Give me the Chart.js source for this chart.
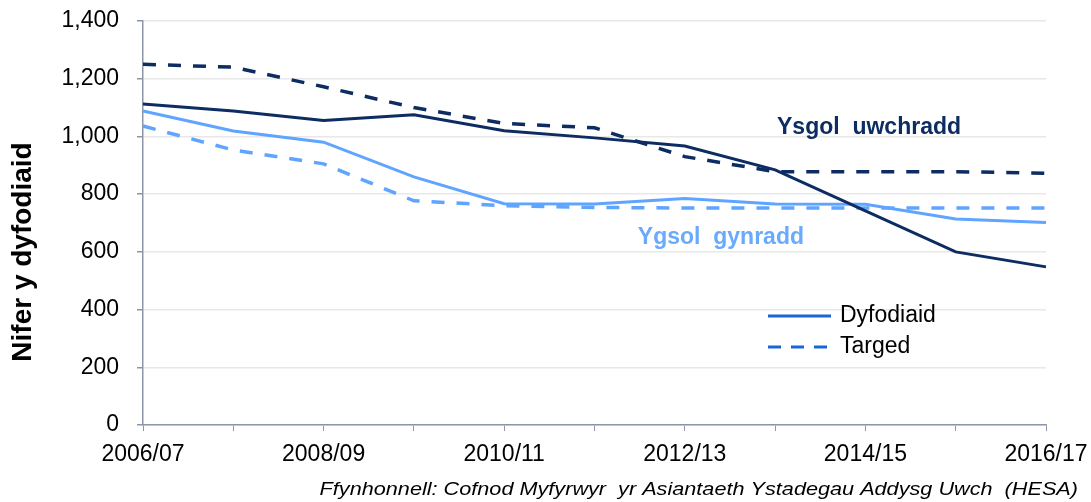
<!DOCTYPE html>
<html>
<head>
<meta charset="utf-8">
<script src="https://cdn.jsdelivr.net/npm/chart.js@4.4.1/dist/chart.umd.min.js"></script>
<style>
  html, body { margin: 0; padding: 0; background: #ffffff; }
  #wrap { width: 1091px; height: 502px; position: relative; }
</style>
</head>
<body>
<div id="wrap"><canvas id="c"></canvas></div>
<script>
const categories = ["2006/07","2007/08","2008/09","2009/10","2010/11","2011/12","2012/13","2013/14","2014/15","2015/16","2016/17"];
const secondaryActual = [1112, 1088, 1055, 1075, 1020, 995, 967, 884, 742, 600, 548];
const secondaryTarget = [1250, 1240, 1172, 1100, 1045, 1030, 930, 878, 878, 878, 872];
const primaryActual   = [1088, 1019, 980, 860, 767, 766, 785, 766, 765, 714, 702];
const primaryTarget   = [1036, 953, 905, 777, 760, 754, 752, 752, 752, 752, 752];
const yTicks = [0, 200, 400, 600, 800, 1000, 1200, 1400];

const yTitle = "Nifer y dyfodiaid";
const labelSecondary = "Ysgol  uwchradd";
const labelPrimary = "Ygsol  gynradd";
const legendItems = ["Dyfodiaid", "Targed"];
const sourceText = "Ffynhonnell: Cofnod Myfyrwyr  yr Asiantaeth Ystadegau Addysg Uwch  (HESA)";

const DARK = "#0c2c62";
const LIGHT = "#5fa5ff";
const AXIS = "#8f95a8";
const GRID = "#e8e8e8";
const FONT = "'Liberation Sans', Arial, sans-serif";

const textPlugin = {
  id: "texts",
  afterDraw(chart) {
    const ctx = chart.ctx;
    const xs = chart.scales.x, ys = chart.scales.y;
    ctx.save();
    // Y axis title
    ctx.save();
    ctx.translate(23, 252);
    ctx.rotate(-Math.PI / 2);
    ctx.font = "bold 28px " + FONT;
    ctx.fillStyle = "#000";
    ctx.textAlign = "center";
    ctx.textBaseline = "middle";
    ctx.fillText(yTitle, 0, 0);
    ctx.restore();

    // Series annotations
    ctx.font = "bold 23px " + FONT;
    ctx.textAlign = "center";
    ctx.textBaseline = "middle";
    ctx.fillStyle = DARK;
    ctx.fillText(labelSecondary, xs.getPixelForValue(8.04), ys.getPixelForValue(1030));
    ctx.fillStyle = "#69aafc";
    ctx.fillText(labelPrimary, xs.getPixelForValue(6.4), ys.getPixelForValue(648));

    // Legend
    const lx0 = 768, lx1 = 831, ly0 = 316, ly1 = 347;
    ctx.strokeStyle = "#1a66d9";
    ctx.lineWidth = 3;
    ctx.beginPath(); ctx.moveTo(lx0, ly0); ctx.lineTo(lx1, ly0); ctx.stroke();
    ctx.setLineDash([13, 10]);
    ctx.beginPath(); ctx.moveTo(lx0, ly1); ctx.lineTo(lx1, ly1); ctx.stroke();
    ctx.setLineDash([]);
    ctx.font = "23px " + FONT;
    ctx.fillStyle = "#000";
    ctx.textAlign = "left";
    ctx.fillText(legendItems[0], 840, ly0);
    ctx.fillText(legendItems[1], 840, ly1);

    // Source (slightly widened, as in the reference)
    ctx.save();
    ctx.translate(1078, 490);
    ctx.scale(1.14, 1);
    ctx.font = "italic 19px " + FONT;
    ctx.textAlign = "right";
    ctx.fillText(sourceText, 0, 0);
    ctx.restore();
    ctx.restore();
  }
};

new Chart(document.getElementById("c"), {
  type: "line",
  data: {
    labels: categories,
    datasets: [
      { label: "Ysgol uwchradd - Dyfodiaid", data: secondaryActual, borderColor: DARK, borderWidth: 3 },
      { label: "Ysgol uwchradd - Targed", data: secondaryTarget, borderColor: DARK, borderWidth: 3.5, borderDash: [13, 12] },
      { label: "Ygsol gynradd - Dyfodiaid", data: primaryActual, borderColor: LIGHT, borderWidth: 3 },
      { label: "Ygsol gynradd - Targed", data: primaryTarget, borderColor: LIGHT, borderWidth: 3.5, borderDash: [13, 12] }
    ]
  },
  options: {
    responsive: true,
    maintainAspectRatio: false,
    animation: false,
    layout: { padding: { left: 0, right: 45, top: 21, bottom: 0 } },
    elements: { point: { radius: 0 }, line: { tension: 0, fill: false } },
    plugins: { legend: { display: false }, tooltip: { enabled: false } },
    scales: {
      x: {
        type: "category",
        offset: false,
        afterFit(scale) {
          scale.height = 77;
          scale.paddingLeft = 0; scale.paddingRight = 0;
        },
        grid: { display: true, drawOnChartArea: false, drawTicks: true, tickLength: 6, tickColor: AXIS },
        border: { display: true, color: AXIS, width: 1.5 },
        ticks: {
          autoSkip: false, maxRotation: 0, minRotation: 0, padding: 10,
          color: "#000", font: { family: FONT, size: 23 },
          callback(value, index) { return index % 2 === 0 ? categories[index] : ""; }
        }
      },
      y: {
        min: 0, max: 1400,
        afterFit(scale) {
          scale.width = 143;
          scale.paddingTop = 0; scale.paddingBottom = 0;
        },
        afterBuildTicks(scale) { scale.ticks = yTicks.map(v => ({ value: v })); },
        grid: { color: GRID, lineWidth: 1.5, tickColor: AXIS, tickLength: 6, drawTicks: true },
        border: { display: true, color: AXIS, width: 1.5 },
        ticks: {
          padding: 18, color: "#000", font: { family: FONT, size: 23 },
          callback(v) { return Number(v).toLocaleString("en-US"); }
        }
      }
    }
  },
  plugins: [textPlugin]
});
</script>
</body>
</html>
